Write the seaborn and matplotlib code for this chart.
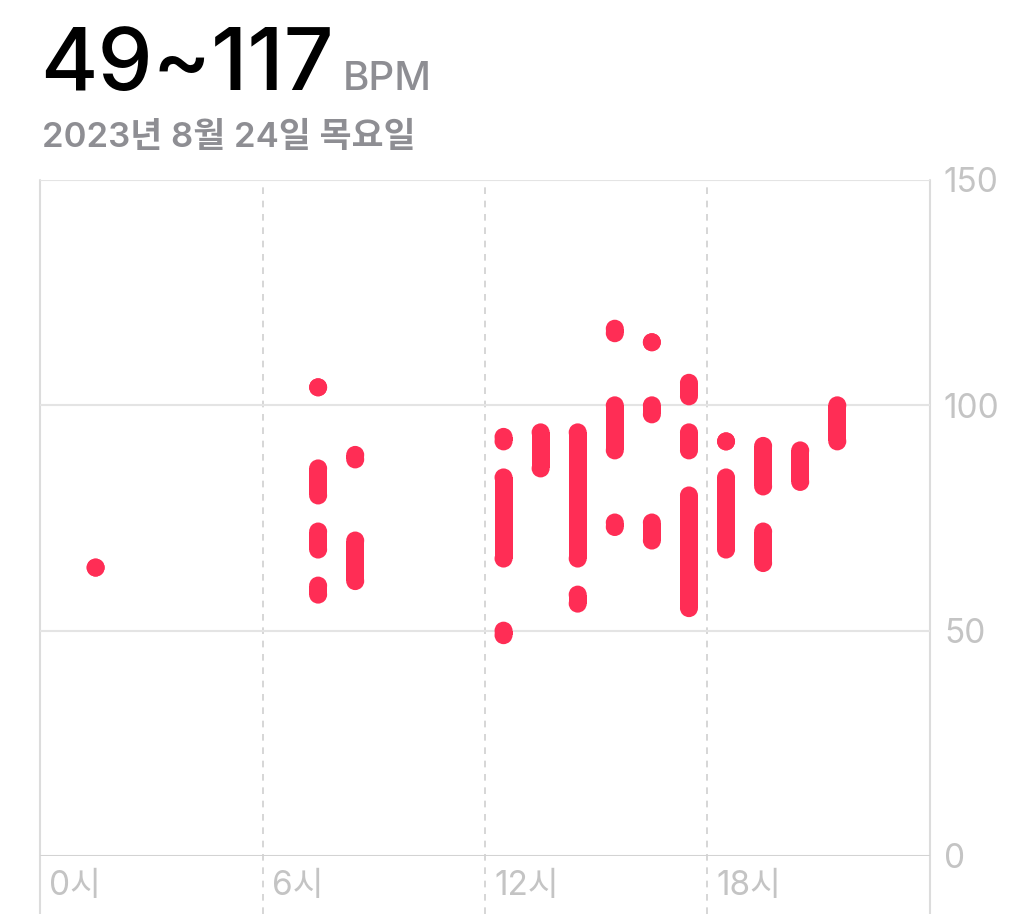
import pandas as pd
import seaborn as sns
import matplotlib.pyplot as plt
import matplotlib.transforms as mtransforms

sns.set_theme(style="white")
plt.rcParams['font.family'] = ['Inter', 'Noto Sans CJK KR', 'DejaVu Sans']

RED = "#FF2D55"

# hourly heart-rate ranges (one entry per drawn segment)
seg_hour = [1, 7, 7, 7, 7, 8, 8, 12, 12, 12, 13, 14, 14, 15, 15, 15,
            16, 16, 16, 17, 17, 17, 18, 18, 19, 19, 20, 21]
seg_low = [64, 104, 80, 68, 58, 88, 61, 92, 66, 49, 86, 66, 56, 116, 90, 73,
           114, 98, 70, 102, 90, 55, 92, 68, 82, 65, 83, 92]
seg_high = [64, 104, 86, 72, 60, 89, 70, 93, 84, 50, 94, 94, 58, 117, 100, 74,
            114, 100, 74, 105, 94, 80, 92, 84, 91, 72, 90, 100]

x_ticks = [0, 6, 12, 18]
x_labels = ["0시", "6시", "12시", "18시"]
y_ticks = [0, 50, 100, 150]

rows = []
for i, (h, lo, hi) in enumerate(zip(seg_hour, seg_low, seg_high)):
    rows.append({"seg": i, "x": h + 0.5, "bpm": lo})
    rows.append({"seg": i, "x": h + 0.5, "bpm": hi})
df = pd.DataFrame(rows)

fig = plt.figure(figsize=(10.24, 9.14), dpi=100)
ax = fig.add_axes([40 / 1024, 1 - 856 / 914, 890 / 1024, 676 / 914])

lw = 18 * 72 / 100
sns.lineplot(data=df, x="x", y="bpm", units="seg", estimator=None,
             color=RED, lw=lw, legend=False, solid_capstyle="butt", ax=ax)
sns.scatterplot(data=df, x="x", y="bpm", color=RED, s=lw ** 2,
                edgecolor="none", legend=False, ax=ax, zorder=3)

ax.set_xlim(0, 24)
ax.set_ylim(0, 150)
for s in ax.spines.values():
    s.set_visible(False)

ax.set_yticks(y_ticks)
ax.yaxis.tick_right()
ax.yaxis.grid(True, color="#e4e4e4", lw=1.5)
ax.axhline(0, color="#d2d2d2", lw=2, zorder=1)
ax.tick_params(axis="y", length=0, pad=10, labelsize=24, labelcolor="#c4c4c4")

below = -(914 - 856) / 676
for xv in [6, 12, 18]:
    ax.axvline(xv, ymin=below, ymax=1, clip_on=False, color="#d0d0d0",
               lw=1.2, ls=(0, (4, 4)), zorder=0)
for xv in [0, 24]:
    ax.axvline(xv, ymin=below, ymax=1, clip_on=False, color="#dcdcdc",
               lw=1.5, zorder=0)

ax.set_xticks(x_ticks, x_labels)
ax.tick_params(axis="x", length=0, pad=10, labelsize=24, labelcolor="#c4c4c4")
offset = mtransforms.ScaledTranslation(0.09, 0, fig.dpi_scale_trans)
for lab in ax.get_xticklabels():
    lab.set_horizontalalignment("left")
    lab.set_transform(lab.get_transform() + offset)

ax.set_xlabel("")
ax.set_ylabel("")

fig.text(40 / 1024, 1 - 90 / 914, "49~117", fontsize=63, color="black",
         va="baseline", ha="left", fontweight="medium")
fig.text(343 / 1024, 1 - 90 / 914, "BPM", fontsize=29, color="#8e8e93",
         va="baseline", ha="left", fontweight="medium")
fig.text(42 / 1024, 1 - 147 / 914, "2023년 8월 24일 목요일", fontsize=25,
         color="#8e8e93", va="baseline", ha="left", fontweight="semibold")

fig.savefig("out.png", dpi=100)
